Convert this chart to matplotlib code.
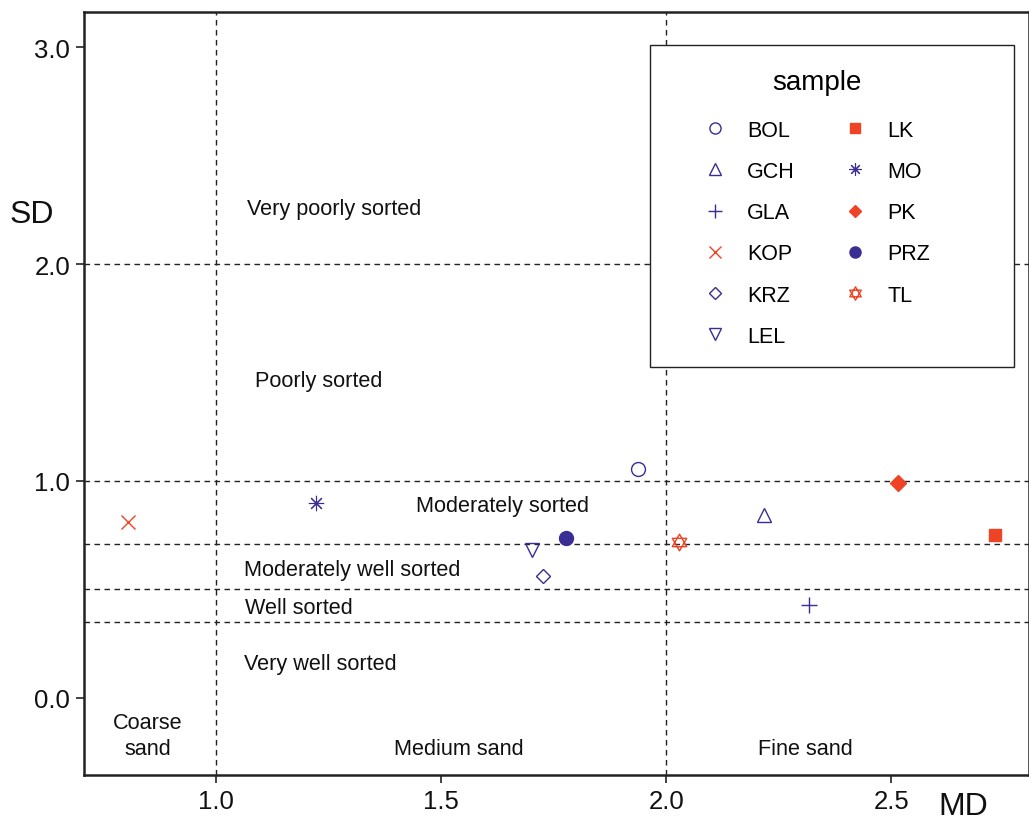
import matplotlib.pyplot as plt
from matplotlib.patches import Rectangle
from matplotlib.path import Path

# sample values
SAMPLES = ["BOL", "GCH", "GLA", "KOP", "KRZ", "LEL", "LK", "MO", "PK", "PRZ", "TL"]
MD = [1.937, 2.217, 2.317, 0.804, 1.726, 1.701, 2.730, 1.221, 2.514, 1.777, 2.028]
SD = [1.055, 0.843, 0.429, 0.811, 0.562, 0.682, 0.751, 0.899, 0.991, 0.737, 0.719]

SD_CLASSES = [0.35, 0.5, 0.71, 1.0, 2.0]
MD_CLASSES = [1.0, 2.0]

BLUE = "#3A2D94"
RED = "#EE4324"
INK = "#111111"

# hexagram (Star of David) marker
_tri_up = [(0, 1), (0.866, -0.5), (-0.866, -0.5), (0, 1)]
_tri_dn = [(0, -1), (0.866, 0.5), (-0.866, 0.5), (0, -1)]
HEXAGRAM = Path(_tri_up + _tri_dn,
                [Path.MOVETO, Path.LINETO, Path.LINETO, Path.CLOSEPOLY] * 2)

STYLE = {
    # name: (marker, color, filled, size, edge width)
    "BOL": ("o", BLUE, False, 10, 1.0),
    "GCH": ("^", BLUE, False, 10, 1.0),
    "GLA": ("+", BLUE, False, 12, 1.0),
    "KOP": ("x", RED, False, 10, 1.0),
    "KRZ": ("D", BLUE, False, 7.5, 1.0),
    "LEL": ("v", BLUE, False, 10, 1.0),
    "LK": ("s", RED, True, 9, 1.0),
    "MO": ((8, 2, 0), BLUE, False, 11, 0.8),
    "PK": ("D", RED, True, 8, 1.0),
    "PRZ": ("o", BLUE, True, 10, 1.0),
    "TL": (HEXAGRAM, RED, False, 12, 1.0),
}


def main():
    plt.rcParams["font.family"] = ["Liberation Sans", "DejaVu Sans"]

    fig = plt.figure(figsize=(10.29, 8.20), dpi=100, facecolor="white")
    ax = fig.add_axes([0.0816, 0.0537, 1 - 0.0816, 0.984 - 0.0537])
    ax.set_xlim(0.706, 2.806)
    ax.set_ylim(-0.355, 3.161)

    for v in SD_CLASSES:
        ax.axhline(v, color="#222222", lw=1.0, ls=(0, (4, 3.2)), zorder=1)
    for v in MD_CLASSES:
        ax.axvline(v, color="#222222", lw=1.0, ls=(0, (4, 3.2)), zorder=1)

    for name, x, y in zip(SAMPLES, MD, SD):
        marker, color, filled, size, mew = STYLE[name]
        ax.plot([x], [y], ls="none", marker=marker, ms=size,
                mec=color, mfc=color if filled else "none",
                mew=mew, label=name, zorder=3)

    # sorting classes
    txt = dict(fontsize=15.6, color=INK, va="center")
    ax.text(1.068, 2.258, "Very poorly sorted", **txt)
    ax.text(1.085, 1.465, "Poorly sorted", **txt)
    ax.text(1.443, 0.885, "Moderately sorted", **txt)
    ax.text(1.061, 0.594, "Moderately well sorted", **txt)
    ax.text(1.063, 0.415, "Well sorted", **txt)
    ax.text(1.061, 0.157, "Very well sorted", **txt)

    # grain size classes
    ax.text(0.848, -0.172, "Coarse\nsand", ha="center", va="center",
            fontsize=15.6, color=INK, linespacing=1.3)
    ax.text(1.539, -0.234, "Medium sand", ha="center", va="center",
            fontsize=15.6, color=INK)
    ax.text(2.308, -0.234, "Fine sand", ha="center", va="center",
            fontsize=15.6, color=INK)

    ax.set_xticks([1.0, 1.5, 2.0, 2.5])
    ax.set_xticklabels(["1.0", "1.5", "2.0", "2.5"])
    ax.set_yticks([0.0, 1.0, 2.0, 3.0])
    ax.set_yticklabels(["0.0", "1.0", "2.0", "3.0"])
    ax.tick_params(direction="out", length=6, width=1.2, labelsize=18.5,
                   color="#222222", labelcolor=INK, pad=4)
    for side in ("left", "bottom", "top", "right"):
        ax.spines[side].set_linewidth(1.8)
        ax.spines[side].set_color("#222222")

    fig.text(32 / 1029, 1 - 215 / 820, "SD", fontsize=23, ha="center",
             va="center", color=INK)
    fig.text(963 / 1029, 1 - 807 / 820, "MD", fontsize=23, ha="center",
             va="center", color=INK)

    # legend frame drawn by hand so the inner padding can match
    frame = Rectangle((0.599, 0.535), 0.984 - 0.599, 0.957 - 0.535,
                      transform=ax.transAxes, facecolor="white",
                      edgecolor="#222222", lw=1.0, zorder=4)
    ax.add_patch(frame)

    leg = ax.legend(title="sample", ncol=2, loc="upper left",
                    bbox_to_anchor=(0.656, 0.926), fontsize=15.5,
                    title_fontsize=20, markerscale=0.8, frameon=False,
                    borderpad=0, borderaxespad=0, labelspacing=0.94,
                    handlelength=1.0, handletextpad=1.0, columnspacing=2.3)
    leg.set_zorder(5)
    leg._legend_box.sep = 18

    fig.savefig("out.png", dpi=100, facecolor="white")


if __name__ == "__main__":
    main()
